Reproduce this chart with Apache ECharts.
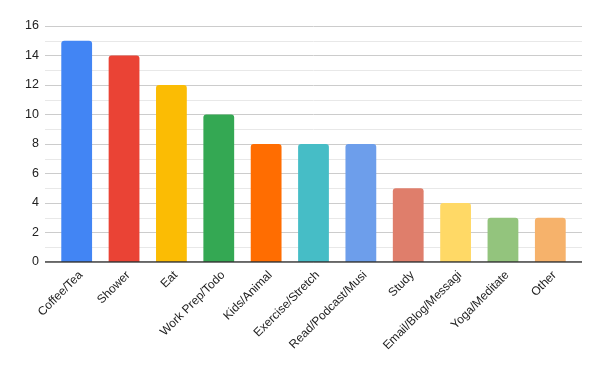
<!DOCTYPE html>
<html><head><meta charset="utf-8">
<script src="https://cdn.jsdelivr.net/npm/echarts@6/dist/echarts.min.js"></script>
<style>html,body{margin:0;padding:0;background:#fff}#c{width:600px;height:371px}</style>
</head><body><div id="c"></div>
<script>
const categories = ["Coffee/Tea","Shower","Eat","Work Prep/Todo","Kids/Animal","Exercise/Stretch","Read/Podcast/Musi","Study","Email/Blog/Messagi","Yoga/Meditate","Other"];
const values = [15,14,12,10,8,8,8,5,4,3,3];
const colors = ["#4285F4","#EA4335","#FBBC04","#34A853","#FF6D01","#46BDC6","#6D9EEB","#DF7E6B","#FFD966","#93C47D","#F6B26B"];
const yTicks = [0,2,4,6,8,10,12,14,16];

const chart = echarts.init(document.getElementById('c'), null, {renderer:'canvas'});
const font = "Liberation Sans, Arial, sans-serif";
chart.setOption({
  animation:false,
  grid:[
    {left:45,right:18,top:26,bottom:109,containLabel:false},
    {left:53,right:26,top:26,bottom:109,containLabel:false}
  ],
  xAxis:[
    {gridIndex:0,type:'value',min:0,max:1,show:false},
    {gridIndex:1,type:'category',data:categories,
     axisLine:{show:false},axisTick:{show:false},
     axisLabel:{rotate:45,interval:0,color:'#222',fontSize:12,fontFamily:font,margin:7,verticalAlign:'top'}}
  ],
  yAxis:[
    {gridIndex:0,type:'value',min:yTicks[0],max:yTicks[yTicks.length-1],interval:2,
     axisLine:{show:false},axisTick:{show:false},
     axisLabel:{color:'#222',fontSize:12.5,fontFamily:font,margin:6},
     splitLine:{lineStyle:{color:'#cccccc',width:1}},
     minorTick:{show:false,splitNumber:2},
     minorSplitLine:{show:true,lineStyle:{color:'#e8e8e8',width:1}}},
    {gridIndex:1,type:'value',min:yTicks[0],max:yTicks[yTicks.length-1],interval:2,show:false,splitLine:{show:false}}
  ],
  series:[
    {type:'bar',xAxisIndex:1,yAxisIndex:1,data:values.map((v,i)=>({value:v,itemStyle:{color:colors[i]}})),
     barWidth:'65%',itemStyle:{borderRadius:[3,3,0,0]},z:3},
    {type:'line',xAxisIndex:0,yAxisIndex:0,data:[[0,0],[1,0]],symbol:'none',
     lineStyle:{color:'#333',width:1.5},z:5,silent:true}
  ]
});
</script></body></html>
